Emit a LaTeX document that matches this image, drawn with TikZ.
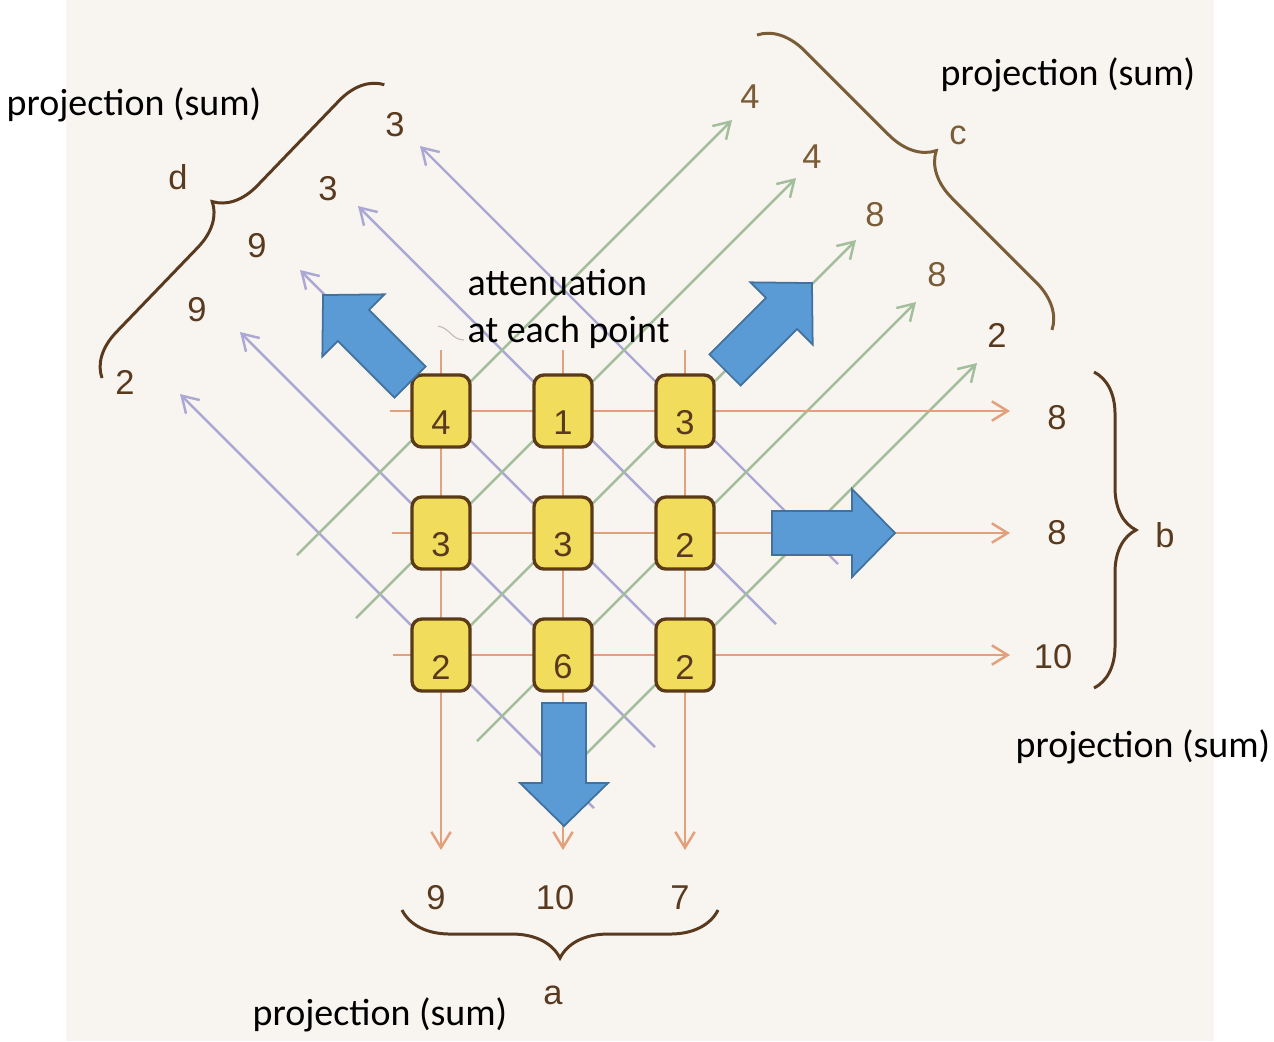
\documentclass[tikz,border=0pt]{standalone}
\usepackage{fontspec}
\setmainfont{Liberation Sans}
\newfontfamily\calibrifont{Carlito}
\usetikzlibrary{arrows.meta,decorations.pathreplacing}
\definecolor{cream}{HTML}{F8F4F0}
\definecolor{rowc}{HTML}{E2A07C}
\definecolor{grn}{HTML}{A2BE9B}
\definecolor{pur}{HTML}{ABA9D4}
\definecolor{brn}{HTML}{5A3A1E}
\definecolor{brnlight}{HTML}{7A5C36}
\definecolor{boxfill}{HTML}{F1DC5C}
\definecolor{boxline}{HTML}{5A3A17}
\definecolor{bluefill}{HTML}{5B9BD5}
\definecolor{blueline}{HTML}{41719C}
\begin{document}
\begin{tikzpicture}[x=0.01cm,y=-0.01cm,
  ray/.style={line width=0.7pt,-{Straight Barb[length=4.5pt,width=5.5pt]}},
  rowray/.style={ray,draw=rowc},
  grnray/.style={ray,draw=grn},
  purray/.style={ray,draw=pur},
  cell/.style={draw=boxline,fill=boxfill,line width=0.95pt,rounded corners=2.8pt,
    minimum width=0.58cm,minimum height=0.72cm,inner sep=0pt},
  num/.style={font=\fontsize{9.8}{11}\selectfont,text=brn,inner sep=0pt},
  numc/.style={num,text=brnlight},
  captxt/.style={font=\calibrifont\fontsize{10.8}{13}\selectfont,text=black,inner sep=0pt,anchor=base west},
  brc/.style={draw=brn,line width=0.85pt,decorate,decoration={brace,amplitude=#1}},
  blk/.style={fill=bluefill,draw=blueline,line width=0.5pt}
]
\useasboundingbox (0,0) rectangle (1274,1041);
\fill[white] (0,0) rectangle (1274,1041);
\fill[cream] (66,0) rectangle (1214,1041);

% --- ray coordinates
\coordinate (v1s) at (441,350); \coordinate (v1e) at (441,850);
\coordinate (v2s) at (563,350); \coordinate (v2e) at (563,850);
\coordinate (v3s) at (685,350); \coordinate (v3e) at (685,850);
\coordinate (h1s) at (390,411); \coordinate (h1e) at (1010,411);
\coordinate (h2s) at (392,533); \coordinate (h2e) at (1010,533);
\coordinate (h3s) at (393,655); \coordinate (h3e) at (1010,655);
\coordinate (g1s) at (297,555); \coordinate (g1e) at (732,120);
\coordinate (g2s) at (356,618); \coordinate (g2e) at (796,178);
\coordinate (g3s) at (441,655); \coordinate (g3e) at (856,240);
\coordinate (g4s) at (477,741); \coordinate (g4e) at (916,302);
\coordinate (g5s) at (586,754); \coordinate (g5e) at (977,363);
\coordinate (p1s) at (838,564); \coordinate (p1e) at (420,146);
\coordinate (p2s) at (776,624); \coordinate (p2e) at (358,206);
\coordinate (p3s) at (685,655); \coordinate (p3e) at (300,270);
\coordinate (p4s) at (655,747); \coordinate (p4e) at (240,332);
\coordinate (p5s) at (594,808); \coordinate (p5e) at (180,394);

% --- rays
\foreach \n in {1,...,5}{\draw[purray] (p\n s) -- (p\n e);}
\foreach \n in {1,...,5}{\draw[grnray] (g\n s) -- (g\n e);}
\foreach \n in {1,2,3}{\draw[rowray] (v\n s) -- (v\n e);}
\foreach \n in {1,2,3}{\draw[rowray] (h\n s) -- (h\n e);}

% --- cells
\node[cell,label={[num,yshift=-0.12cm]center:4}] (c11) at (441,411) {};
\node[cell,label={[num,yshift=-0.12cm]center:1}] (c12) at (563,411) {};
\node[cell,label={[num,yshift=-0.12cm]center:3}] (c13) at (685,411) {};
\node[cell,label={[num,yshift=-0.12cm]center:3}] (c21) at (441,533) {};
\node[cell,label={[num,yshift=-0.12cm]center:3}] (c22) at (563,533) {};
\node[cell,label={[num,yshift=-0.12cm]center:2}] (c23) at (685,533) {};
\node[cell,label={[num,yshift=-0.12cm]center:2}] (c31) at (441,655) {};
\node[cell,label={[num,yshift=-0.12cm]center:6}] (c32) at (563,655) {};
\node[cell,label={[num,yshift=-0.12cm]center:2}] (c33) at (685,655) {};

% --- block arrows
\begin{scope}[shift={(772,533)},rotate=0]
  \filldraw[blk] (0,-22) -- (80,-22) -- (80,-44) -- (123,0) -- (80,44) -- (80,22) -- (0,22) -- cycle;
\end{scope}
\begin{scope}[shift={(564,703)},rotate=-90]
  \filldraw[blk] (0,-22) -- (80,-22) -- (80,-44) -- (123,0) -- (80,44) -- (80,22) -- (0,22) -- cycle;
\end{scope}
\begin{scope}[shift={(410,382)},rotate=135]
  \filldraw[blk] (0,-22) -- (80,-22) -- (80,-44) -- (123,0) -- (80,44) -- (80,22) -- (0,22) -- cycle;
\end{scope}
\begin{scope}[shift={(725,370)},rotate=45]
  \filldraw[blk] (0,-22) -- (80,-22) -- (80,-44) -- (123,0) -- (80,44) -- (80,22) -- (0,22) -- cycle;
\end{scope}

% --- projection values
\node[num] (a1) at (436,898) {9};
\node[num] (a2) at (555,898) {10};
\node[num] (a3) at (680,898) {7};
\node[num] (b1) at (1057,418) {8};
\node[num] (b2) at (1057,533) {8};
\node[num] (b3) at (1053,657) {10};
\node[numc] (cc1) at (750,97) {4};
\node[numc] (cc2) at (812,157) {4};
\node[numc] (cc3) at (875,215) {8};
\node[numc] (cc4) at (937,275) {8};
\node[num] (cc5) at (997,335) {2};
\node[num] (d1) at (395,125) {3};
\node[num] (d2) at (328,189) {3};
\node[num] (d3) at (257,246) {9};
\node[num] (d4) at (197,310) {9};
\node[num] (d5) at (125,382) {2};

% --- braces
\coordinate (aL) at (402,910); \coordinate (aR) at (718,910);
\coordinate (bT) at (1094,372); \coordinate (bB) at (1094,688);
\coordinate (cT) at (757,35);  \coordinate (cB) at (1053,331);
\coordinate (dB) at (102,378); \coordinate (dT) at (385,84);
\draw[brc=0.48cm] (aR) -- (aL);
\draw[brc=0.42cm] (bT) -- (bB);
\draw[brc=0.45cm,draw=brnlight] (cT) -- (cB);
\draw[brc=0.43cm] (dB) -- (dT);

\node[num] (la) at (553,995) {a};
\node[num] (lb) at (1165,535) {b};
\node[numc] (lc) at (958,135) {c};
\node[num] (ld) at (178,177) {d};

% --- captions
\node[captxt] (pd) at (6,115) {projection (sum)};
\node[captxt] (pc) at (940,85) {projection (sum)};
\node[captxt] (pb) at (1015,757) {projection (sum)};
\node[captxt] (pa) at (252,1025) {projection (sum)};
\node[captxt] (att1) at (467,295) {attenuation};
\node[captxt] (att2) at (467,342) {at each point};
\coordinate (tk1) at (438,326); \coordinate (tk2) at (464,340);
\draw[draw=brn!35,line width=0.3pt] (tk1) .. controls (450,328) and (452,340) .. (tk2);
\end{tikzpicture}
\end{document}
